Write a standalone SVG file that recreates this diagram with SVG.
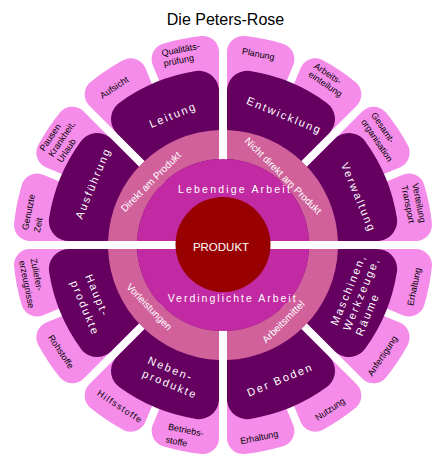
<svg xmlns="http://www.w3.org/2000/svg" width="446" height="468" viewBox="0 0 446 468">
<style>
.lp{fill:#F58CEA;stroke:#F58CEA;stroke-width:32;stroke-linejoin:round}
.dp{fill:#650060;stroke:#650060;stroke-width:40;stroke-linejoin:round}
.pk{fill:#D0619B}
.mg{fill:#C12AA2}
text{font-family:"Liberation Sans",Arial,sans-serif}
.lt{font-size:9px;fill:#000}
.dt{font-size:11px;fill:#fff;letter-spacing:2px}
.rt{font-size:10px;fill:#fff}
.ct{font-size:10.5px;fill:#fff}
</style>
<defs>
<path id="lpet" d="M243 144.45 L243 52.03 A194 194 0 0 1 278.37 59.07 Z"/>
<path id="dpet" d="M247 187.06 L247 90.86 A156 156 0 0 1 315.02 119.04 Z"/>
<path id="quad" d="M219 241 L219 130.07 A115 115 0 0 0 108.07 241 L137.09 241 A86 86 0 0 1 219 159.09 Z"/>
<path id="half" d="M137.09 241 A86 86 0 0 1 308.91 241 Z"/>
</defs>
<rect width="446" height="468" fill="#fff"/>
<text x="225.5" y="24.5" text-anchor="middle" font-size="16" fill="#000">Die Peters-Rose</text>

<g id="p-planung"><use href="#lpet" class="lp"/><text class="lt" text-anchor="middle" transform="translate(257.7 57.1) rotate(11.25)">Planung</text></g>
<g id="p-arbeitseinteilung"><use href="#lpet" class="lp" transform="rotate(22.5 223 245)"/><text class="lt" transform="translate(313.3 67.5) rotate(33.75)"><tspan x="0" y="0">Arbeits-</tspan><tspan x="0" y="10">einteilung</tspan></text></g>
<g id="p-gesamtorganisation"><use href="#lpet" class="lp" transform="rotate(45 223 245)"/><text class="lt" transform="translate(370.8 115) rotate(56.25)"><tspan x="0" y="0">Gesamt-</tspan><tspan x="0" y="12">organisation</tspan></text></g>
<g id="p-verteilung"><use href="#lpet" class="lp" transform="rotate(67.5 223 245)"/><text class="lt" transform="translate(412.1 183.9) rotate(78.75)"><tspan x="0" y="0">Verteilung</tspan><tspan x="0" y="11">Transport</tspan></text></g>
<g id="p-erhaltung1"><use href="#lpet" class="lp" transform="rotate(90 223 245)"/><text class="lt" text-anchor="middle" transform="translate(417.1 287.3) rotate(-78.75)">Erhaltung</text></g>
<g id="p-anfertigung"><use href="#lpet" class="lp" transform="rotate(112.5 223 245)"/><text class="lt" text-anchor="middle" transform="translate(385 357.6) rotate(-56.25)">Anfertigung</text></g>
<g id="p-nutzung"><use href="#lpet" class="lp" transform="rotate(135 223 245)"/><text class="lt" text-anchor="middle" transform="translate(331.7 411.7) rotate(-33.75)">Nutzung</text></g>
<g id="p-erhaltung2"><use href="#lpet" class="lp" transform="rotate(157.5 223 245)"/><text class="lt" text-anchor="middle" transform="translate(259.8 440.4) rotate(-11.25)">Erhaltung</text></g>
<g id="p-betriebsstoffe"><use href="#lpet" class="lp" transform="rotate(180 223 245)"/><text class="lt" transform="translate(167.7 429.6) rotate(11.25)"><tspan x="0" y="0">Betriebs-</tspan><tspan x="0" y="13">stoffe</tspan></text></g>
<g id="p-hilfsstoffe"><use href="#lpet" class="lp" transform="rotate(202.5 223 245)"/><text class="lt" text-anchor="middle" letter-spacing="1.2" transform="translate(118.3 409.2) rotate(33.75)">Hilfsstoffe</text></g>
<g id="p-rohstoffe"><use href="#lpet" class="lp" transform="rotate(225 223 245)"/><text class="lt" text-anchor="middle" transform="translate(58.4 353.4) rotate(56.25)">Rohstoffe</text></g>
<g id="p-zuliefer"><use href="#lpet" class="lp" transform="rotate(247.5 223 245)"/><text class="lt" transform="translate(30.4 258.9) rotate(78.75)"><tspan x="0" y="0">Zuliefer-</tspan><tspan x="0" y="11.5">erzeugnisse</tspan></text></g>
<g id="p-genutztezeit"><use href="#lpet" class="lp" transform="rotate(270 223 245)"/><text class="lt" transform="translate(27.9 230.6) rotate(-78.75)"><tspan x="0" y="0">Genutzte</tspan><tspan x="0" y="12">Zeit</tspan></text></g>
<g id="p-pausen"><use href="#lpet" class="lp" transform="rotate(292.5 223 245)"/><text class="lt" transform="translate(44.2 151.7) rotate(-56.25)"><tspan x="0" y="0">Pausen</tspan><tspan x="0" y="10.5">Krankheit,</tspan><tspan x="0" y="21">Urlaub</tspan></text></g>
<g id="p-aufsicht"><use href="#lpet" class="lp" transform="rotate(315 223 245)"/><text class="lt" text-anchor="middle" transform="translate(115.9 90) rotate(-33.75)">Aufsicht</text></g>
<g id="p-qualitaet"><use href="#lpet" class="lp" transform="rotate(337.5 223 245)"/><text class="lt" transform="translate(162.3 56.2) rotate(-11.25)"><tspan x="0" y="0">Qualitäts-</tspan><tspan x="0" y="10.5">prüfung</tspan></text></g>

<g id="d-entwicklung"><use href="#dpet" class="dp"/><text class="dt" text-anchor="middle" letter-spacing="1.8" transform="translate(283 119) rotate(22.5)">Entwicklung</text></g>
<g id="d-verwaltung"><use href="#dpet" class="dp" transform="rotate(45 223 245)"/><text class="dt" text-anchor="middle" letter-spacing="1.5" transform="translate(355 198.8) rotate(67.5)">Verwaltung</text></g>
<g id="d-maschinen"><use href="#dpet" class="dp" transform="rotate(90 223 245)"/><text class="dt" letter-spacing="2.3" transform="translate(337.2 326.3) rotate(-67.5)"><tspan x="0" y="0">Maschinen,</tspan><tspan x="0" y="13.5">Werkzeuge,</tspan><tspan x="0" y="27">Räume</tspan></text></g>
<g id="d-boden"><use href="#dpet" class="dp" transform="rotate(135 223 245)"/><text class="dt" text-anchor="middle" letter-spacing="1.5" transform="translate(281.6 383.2) rotate(-22.5)">Der Boden</text></g>
<g id="d-nebenprodukte"><use href="#dpet" class="dp" transform="rotate(180 223 245)"/><text class="dt" transform="translate(147 363.2) rotate(22.5)"><tspan x="0" y="0">Neben-</tspan><tspan x="0" y="14.5">produkte</tspan></text></g>
<g id="d-hauptprodukte"><use href="#dpet" class="dp" transform="rotate(225 223 245)"/><text class="dt" letter-spacing="2.3" transform="translate(85.1 276.3) rotate(67.5)"><tspan x="0" y="0">Haupt-</tspan><tspan x="0" y="16">produkte</tspan></text></g>
<g id="d-ausfuehrung"><use href="#dpet" class="dp" transform="rotate(270 223 245)"/><text class="dt" text-anchor="middle" letter-spacing="1.7" transform="translate(96.5 184.6) rotate(-67.5)">Ausführung</text></g>
<g id="d-leitung"><use href="#dpet" class="dp" transform="rotate(315 223 245)"/><text class="dt" text-anchor="middle" transform="translate(174.5 118.5) rotate(-22.5)">Leitung</text></g>

<g id="r-direkt"><use href="#quad" class="pk"/><text class="rt" text-anchor="middle" transform="translate(153.3 184.2) rotate(-45)">Direkt am Produkt</text></g>
<g id="r-nichtdirekt"><use href="#quad" class="pk" transform="rotate(90 223 245)"/><text class="rt" text-anchor="middle" transform="translate(280.8 178.3) rotate(45)">Nicht direkt am Produkt</text></g>
<g id="r-arbeitsmittel"><use href="#quad" class="pk" transform="rotate(180 223 245)"/><text class="rt" text-anchor="middle" transform="translate(285.8 324.2) rotate(-45)">Arbeitsmittel</text></g>
<g id="r-vorleistungen"><use href="#quad" class="pk" transform="rotate(270 223 245)"/><text class="rt" font-size="9.5" text-anchor="middle" transform="translate(146.7 309.2) rotate(46)">Vorleistungen</text></g>

<g id="m-lebendig"><use href="#half" class="mg"/><text class="ct" x="178" y="192.7" letter-spacing="2.2">Lebendige Arbeit</text></g>
<g id="m-verdinglicht"><use href="#half" class="mg" transform="rotate(180 223 245)"/><text class="ct" x="167.7" y="302" letter-spacing="2">Verdinglichte Arbeit</text></g>

<g id="produkt"><circle cx="223" cy="244.5" r="47.5" fill="#990000"/><text x="221" y="250.5" text-anchor="middle" font-size="11.5" fill="#fff">PRODUKT</text></g>
</svg>
